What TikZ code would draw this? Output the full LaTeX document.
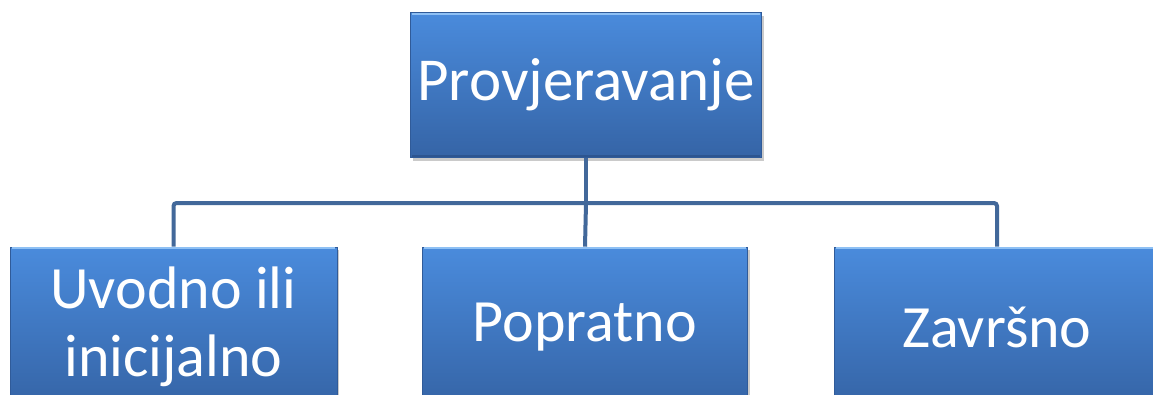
\documentclass[tikz,border=0pt]{standalone}
\usepackage{fontspec}
\setmainfont{Carlito}
\usetikzlibrary{shadows}
\definecolor{boxtop}{HTML}{4A8BDC}
\definecolor{boxbot}{HTML}{3564A6}
\definecolor{conncol}{HTML}{42689A}
\definecolor{bevlight}{HTML}{8EC0F4}
\definecolor{bevdark}{HTML}{2D5590}
\tikzset{
  x=1pt, y=-1pt,
  bluebox/.style={rectangle, inner sep=0pt, text=white, align=center,
    top color=boxtop, bottom color=boxbot,
    draw=bevdark!60!boxbot, line width=0.6pt,
    drop shadow={opacity=0.35, shadow xshift=2pt, shadow yshift=-3pt, fill=black!60}},
  conn/.style={draw=conncol, line width=4pt, rounded corners=3pt},
}
\begin{document}
\begin{tikzpicture}
\useasboundingbox (0,0) rectangle (1153,394);
\clip (0,0) rectangle (1153,394);
\coordinate (j) at (586,203);
\node[bluebox, minimum width=351pt, minimum height=145pt, font=\fontsize{61}{70}\selectfont] (top) at (586,85) {Provjeravanje};
\node[bluebox, minimum width=327pt, minimum height=160pt, font=\fontsize{60}{68}\selectfont] (left) at (173.5,327) {Uvodno ili\\inicijalno};
\node[bluebox, minimum width=325pt, minimum height=160pt, font=\fontsize{60}{68}\selectfont] (mid) at (585,327) {Popratno};
\node[bluebox, minimum width=326pt, minimum height=160pt, font=\fontsize{60}{68}\selectfont] (right) at (997,327) {Završno};
\draw[conn] (top.south) -- (j);
\draw[conn] (j) -- (mid.north);
\draw[conn] (left.north) -- (left.north |- j) -- (right.north |- j) -- (right.north);
\foreach \n in {top,left,mid,right}{
  \draw[bevlight, line width=2pt] ([xshift=2pt,yshift=-1.5pt]\n.north west) -- ([xshift=-2pt,yshift=-1.5pt]\n.north east);
}
\draw[bevdark, line width=2pt] ([xshift=2pt,yshift=1.5pt]top.south west) -- ([xshift=-2pt,yshift=1.5pt]top.south east);
\end{tikzpicture}
\end{document}
